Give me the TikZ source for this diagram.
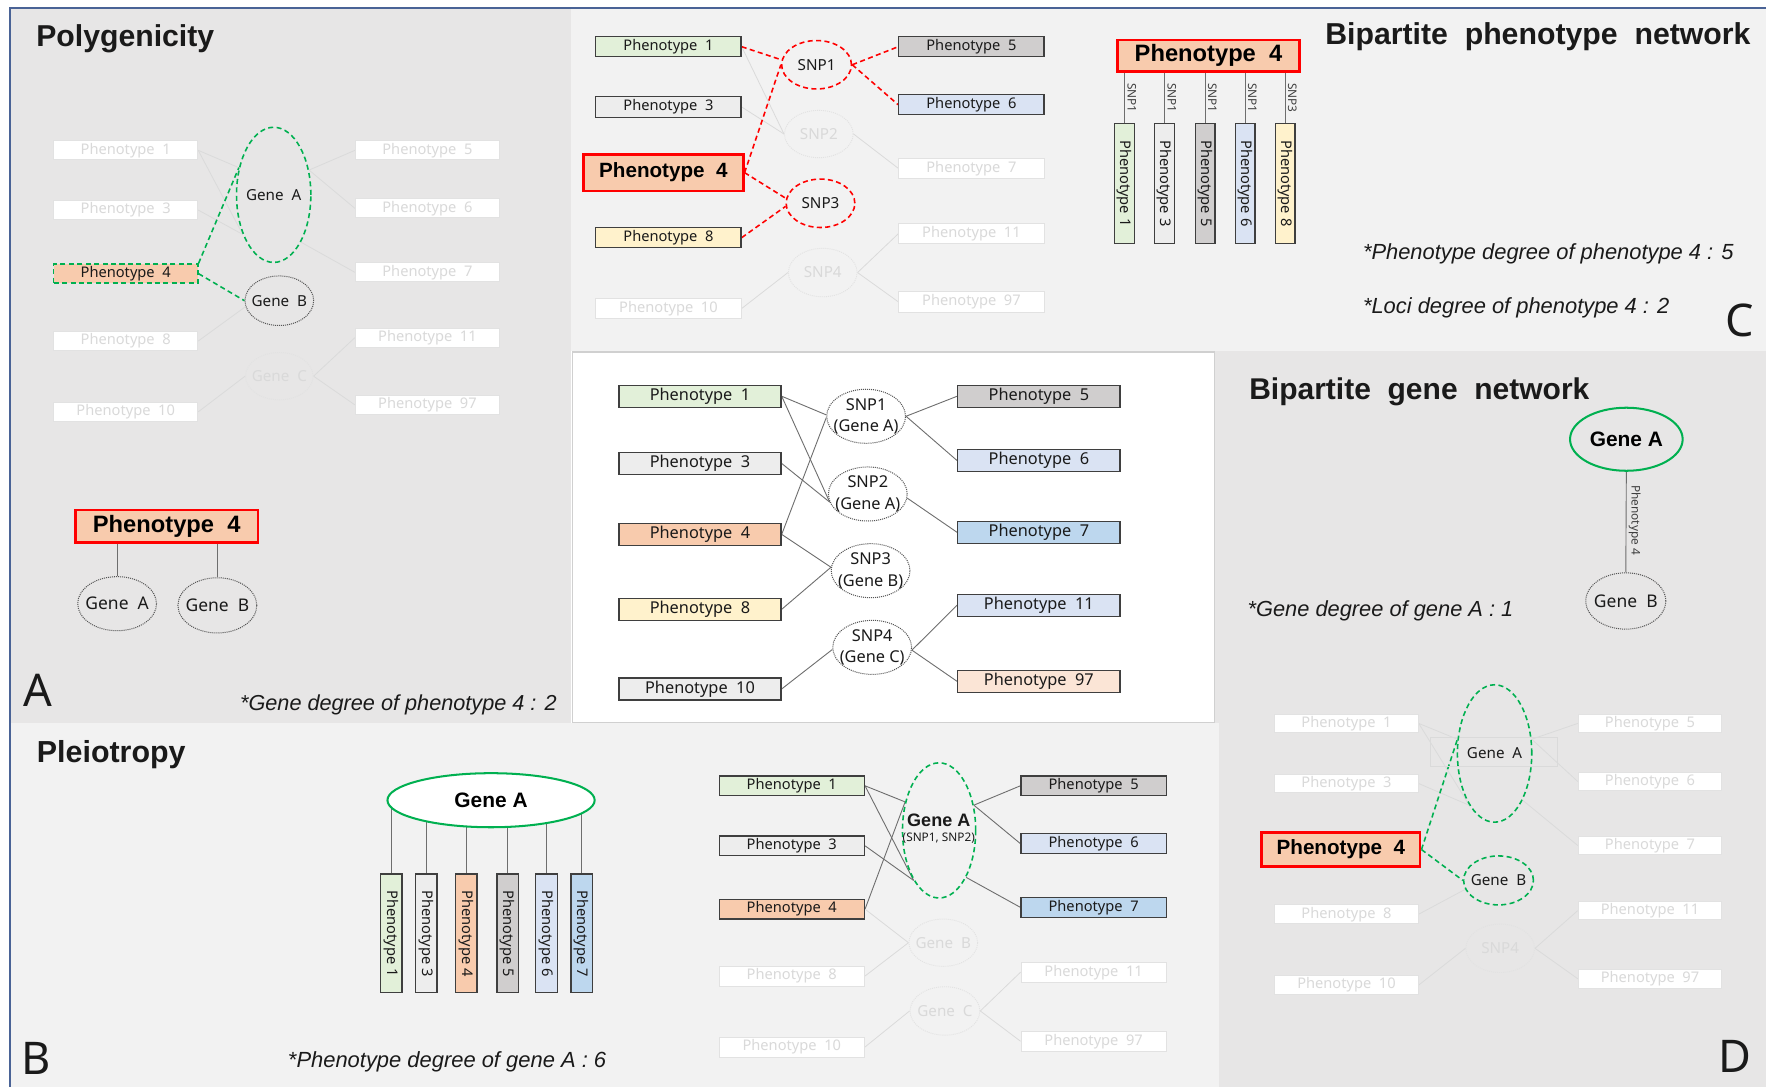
\documentclass[tikz,border=0pt]{standalone}
\usepackage{fontspec}
\usepackage{graphicx}
\setmainfont{Noto Sans}
\newfontfamily\arialf{Liberation Sans}
\newfontfamily\bff{Liberation Sans}
\usetikzlibrary{shapes.geometric}
\pgfdeclarelayer{back}
\pgfdeclarelayer{mid}
\pgfsetlayers{back,mid,main}
\definecolor{bgA}{HTML}{E7E6E6}
\definecolor{bgB}{HTML}{F2F2F2}
\definecolor{bluel}{HTML}{4A6396}
\definecolor{framec}{HTML}{D0D0D0}
\definecolor{bdark}{HTML}{3F3F3F}
\definecolor{cgreen}{HTML}{E2F0D9}
\definecolor{cgrey}{HTML}{EDEDED}
\definecolor{cpeach}{HTML}{F8CBAD}
\definecolor{cyellow}{HTML}{FFF2CC}
\definecolor{cdgrey}{HTML}{D0CECE}
\definecolor{clblue}{HTML}{DAE3F3}
\definecolor{cblue}{HTML}{BDD7EE}
\definecolor{clpeach}{HTML}{FBE5D6}
\definecolor{gcol}{HTML}{00B050}
\definecolor{ghostt}{HTML}{D9D9D9}
\definecolor{ghostb}{HTML}{E2E2E2}
\definecolor{faint}{HTML}{DADADA}
\definecolor{conn}{HTML}{6E6E6E}
\definecolor{dotc}{HTML}{555555}
\definecolor{txt}{HTML}{1A1A1A}
\newcommand\ph[1]{Phenotype\ \ #1}
\newcommand\bfx{\bff\bfseries}
\newcommand\fitw[2]{\resizebox{#1}{!}{#2}}
\newcommand\annot[2]{\resizebox{#1}{!}{\arialf\itshape #2}}
\newcommand\ttl[2]{\resizebox{#1}{!}{\bfx #2}}
\newcommand\fA{\fontsize{13}{15}\selectfont}
\newcommand\fM{\fontsize{14.5}{19}\selectfont}
\newcommand\fG{\fontsize{13.5}{16}\selectfont}
\newcommand\fH{\fontsize{15.5}{18}\selectfont}
\newcommand\fV{\fontsize{13}{15}\selectfont}
\newcommand\fS{\fontsize{10.5}{12}\selectfont}
\newcommand\fLet{\fontsize{40}{44}\selectfont}
\begin{document}
\begin{tikzpicture}[x=1pt,y=-1pt,
 pbox/.style={rectangle,draw=bdark,line width=1.1pt,inner sep=0pt,text=txt},
 ghost/.style={rectangle,draw=ghostb,line width=0.8pt,fill=white,inner sep=0pt,text=ghostt},
 bigbox/.style={rectangle,draw=red,line width=2.2pt,fill=cpeach,inner sep=0pt,text=black},
 sA/.style={minimum width=128pt,minimum height=17pt,font=\fA},
 sC/.style={minimum width=129pt,minimum height=18pt,font=\fA},
 sM/.style={minimum width=144pt,minimum height=19.5pt,font=\fM},
 sB/.style={minimum width=129pt,minimum height=17.5pt,font=\fA},
 sD/.style={minimum width=127.5pt,minimum height=16.5pt,font=\fA},
 vbox/.style={pbox,rotate=-90,font=\fV},
 ellb/.style={ellipse,inner sep=0pt},
 gell/.style={ellb,draw=gcol,line width=1.4pt,dash pattern=on 4.5pt off 3pt},
 rell/.style={ellb,draw=red,line width=1.4pt,dash pattern=on 4.5pt off 3pt},
 dell/.style={ellb,draw=dotc,line width=0.9pt,dash pattern=on 0.9pt off 0.9pt},
 ghell/.style={ellb,draw=ghostb,line width=0.8pt,dash pattern=on 0.9pt off 0.9pt},
 cline/.style={draw=conn,line width=0.8pt},
 fline/.style={draw=faint,line width=0.7pt},
 gdl/.style={draw=gcol,line width=1.4pt,dash pattern=on 4.5pt off 3pt},
 rdl/.style={draw=red,line width=1.4pt,dash pattern=on 4.5pt off 3pt},
 txtn/.style={anchor=base west,inner sep=0pt,text=txt}]
\useasboundingbox (0,0) rectangle (1568,965);
\begin{pgfonlayer}{back}
 \fill[white] (0,0) rectangle (1568,965);
 \fill[bgA] (9,8) rectangle (507,642);
 \fill[bgB] (507,8) rectangle (1568,312);
 \fill[bgA] (1079,312) rectangle (1568,965);
 \fill[bgB] (9,642) rectangle (1082,965);
 \draw[draw=framec,fill=white,line width=1pt] (508,312.5) rectangle (1078.5,641.5);
 \draw[bluel,line width=1.8pt] (8.5,965) -- (8.5,7.5) -- (1568,7.5);
\end{pgfonlayer}

% ---------------- Panel A ----------------
\node[txtn] (tA) at (32,41.5) {\ttl{158pt}{Polygenicity}};
\node[ghost,sA] (A1) at (111.6,133.5) {\ph1};
\node[ghost,sA] (A3) at (111.6,186.5) {\ph3};
\node[pbox,sA,fill=cpeach,draw=gcol,line width=1.4pt,dash pattern=on 4.5pt off 3pt] (A4) at (111.6,243) {\ph4};
\node[ghost,sA] (A8) at (111.6,302.8) {\ph8};
\node[ghost,sA] (A10) at (111.6,365.7) {\ph{10}};
\node[ghost,sA] (A5) at (379.5,133.5) {\ph5};
\node[ghost,sA] (A6) at (379.5,185) {\ph6};
\node[ghost,sA] (A7) at (379.5,241.8) {\ph7};
\node[ghost,sA] (A11) at (379.5,299.8) {\ph{11}};
\node[ghost,sA] (A97) at (379.5,359.5) {\ph{97}};
\node[gell,minimum width=66pt,minimum height=120pt,label={[font=\fG,text=txt]center:Gene\ \ A}] (AGA) at (243,173) {};
\node[dell,minimum width=61pt,minimum height=44pt,label={[font=\fG,text=txt]center:Gene\ \ B}] (AGB) at (248,267) {};
\node[ghell,minimum width=60pt,minimum height=42pt,label={[font=\fG,text=ghostt]center:Gene\ \ C}] (AGC) at (248,334) {};
\node[bigbox,minimum width=162pt,minimum height=29pt] (AP4) at (148,467.3) {\fitw{131pt}{\bfx\ph4}};
\node[dell,minimum width=70pt,minimum height=48pt,label={[font=\fH,text=txt]center:Gene\ \ A}] (AlGA) at (104,536) {};
\node[dell,minimum width=70pt,minimum height=49pt,label={[font=\fH,text=txt]center:Gene\ \ B}] (AlGB) at (193,537.5) {};
\node[txtn,font=\fLet] (labA) at (21,627) {A};
\node[txtn] (annA) at (213,630.4) {\annot{281pt}{*Gene degree of phenotype 4 : 2}};

% ---------------- Panel C ----------------
\node[pbox,sC,fill=cgreen] (C1) at (593.5,41.5) {\ph1};
\node[pbox,sC,fill=cgrey] (C3) at (593.5,95) {\ph3};
\node[bigbox,minimum width=142pt,minimum height=32.5pt] (C4) at (589,153.3) {\fitw{114pt}{\bfx\ph4}};
\node[pbox,sC,fill=cyellow] (C8) at (593.5,211) {\ph8};
\node[ghost,sC] (C10) at (593.5,274) {\ph{10}};
\node[pbox,sC,fill=cdgrey] (C5) at (862.5,41.5) {\ph5};
\node[pbox,sC,fill=clblue] (C6) at (862.5,93) {\ph6};
\node[ghost,sC] (C7) at (862.5,149.5) {\ph7};
\node[ghost,sC] (C11) at (862.5,207.5) {\ph{11}};
\node[ghost,sC] (C97) at (862.5,268) {\ph{97}};
\node[rell,minimum width=62pt,minimum height=43pt,label={[font=\fG,text=txt]center:SNP1}] (CS1) at (725,57.5) {};
\node[ghell,minimum width=61pt,minimum height=42pt,label={[font=\fG,text=ghostt]center:SNP2}] (CS2) at (727,119) {};
\node[rell,minimum width=61pt,minimum height=43pt,label={[font=\fG,text=txt]center:SNP3}] (CS3) at (728.5,180.5) {};
\node[ghell,minimum width=61pt,minimum height=43pt,label={[font=\fG,text=ghostt]center:SNP4}] (CS4) at (730.5,242) {};
\node[bigbox,minimum width=161.5pt,minimum height=28pt] (CR4) at (1073,49.5) {\fitw{131pt}{\bfx\ph4}};
\node[vbox,minimum width=106.5pt,minimum height=17.5pt,fill=cgreen] (CV1) at (998.5,162.75) {Phenotype 1};
\node[vbox,minimum width=106.5pt,minimum height=17.5pt,fill=cgrey] (CV3) at (1034,162.75) {Phenotype 3};
\node[vbox,minimum width=106.5pt,minimum height=17.5pt,fill=cdgrey] (CV5) at (1070,162.75) {Phenotype 5};
\node[vbox,minimum width=106.5pt,minimum height=17.5pt,fill=clblue] (CV6) at (1105.6,162.75) {Phenotype 6};
\node[vbox,minimum width=106.5pt,minimum height=17.5pt,fill=cyellow] (CV8) at (1141,162.75) {Phenotype 8};
\node[rotate=-90,font=\fS,text=bdark,inner sep=0pt] (L1) at (1005,87) {SNP1};
\node[rotate=-90,font=\fS,text=bdark,inner sep=0pt] (L2) at (1040.5,87) {SNP1};
\node[rotate=-90,font=\fS,text=bdark,inner sep=0pt] (L3) at (1076.5,87) {SNP1};
\node[rotate=-90,font=\fS,text=bdark,inner sep=0pt] (L4) at (1112,87) {SNP1};
\node[rotate=-90,font=\fS,text=bdark,inner sep=0pt] (L5) at (1147.5,87) {SNP3};
\node[txtn] (tC) at (1176.5,39.4) {\ttl{377.5pt}{Bipartite\ \ phenotype\ \ network}};
\node[txtn] (annC1) at (1210,230.3) {\annot{329pt}{*Phenotype degree of phenotype 4 : 5}};
\node[txtn] (annC2) at (1210,278.2) {\annot{272pt}{*Loci degree of phenotype 4 : 2}};
\node[txtn,font=\fLet] (labC) at (1532,299) {C};

% ---------------- Middle panel ----------------
\node[pbox,sM,fill=cgreen] (M1) at (621.5,351.8) {\ph1};
\node[pbox,sM,fill=cgrey] (M3) at (621.5,411.5) {\ph3};
\node[pbox,sM,fill=cpeach] (M4) at (621.5,474.5) {\ph4};
\node[pbox,sM,fill=cyellow] (M8) at (621.5,541) {\ph8};
\node[pbox,sM,fill=cgrey] (M10) at (621.5,611.7) {\ph{10}};
\node[pbox,sM,fill=cdgrey] (M5) at (922.4,351.8) {\ph5};
\node[pbox,sM,fill=clblue] (M6) at (922.4,409) {\ph6};
\node[pbox,sM,fill=cblue] (M7) at (922.4,472.7) {\ph7};
\node[pbox,sM,fill=clblue] (M11) at (922.4,537.3) {\ph{11}};
\node[pbox,sM,fill=clpeach] (M97) at (922.4,605) {\ph{97}};
\node[dell,fill=white,minimum width=70pt,minimum height=48pt,label={[font=\fM,text=txt,align=center]center:SNP1\\(Gene A)}] (S1) at (769,369.6) {};
\node[dell,fill=white,minimum width=70pt,minimum height=48pt,label={[font=\fM,text=txt,align=center]center:SNP2\\(Gene A)}] (S2) at (770.5,438.6) {};
\node[dell,fill=white,minimum width=70pt,minimum height=48pt,label={[font=\fM,text=txt,align=center]center:SNP3\\(Gene B)}] (S3) at (773,506.7) {};
\node[dell,fill=white,minimum width=70pt,minimum height=48pt,label={[font=\fM,text=txt,align=center]center:SNP4\\(Gene C)}] (S4) at (774.4,574.8) {};

% ---------------- Panel D ----------------
\node[txtn] (tD) at (1109,354.5) {\ttl{302pt}{Bipartite\ \ gene\ \ network}};
\node[ellb,draw=gcol,line width=1.8pt,minimum width=100pt,minimum height=56pt] (DGA) at (1444,390) {\fitw{65pt}{\bfx Gene A}};
\node[dell,minimum width=71pt,minimum height=50pt,label={[font=\fH,text=txt]center:Gene\ \ B}] (DGB) at (1443.5,533.6) {};
\node[rotate=-90,font=\fS,text=bdark,inner sep=0pt] (DL) at (1451.5,461.7) {Phenotype 4};
\node[txtn] (annD) at (1107.5,547.5) {\annot{236pt}{*Gene degree of gene A : 1}};
\node[ghost,sD] (D1) at (1195.5,642.3) {\ph1};
\node[ghost,sD] (D3) at (1195.5,695.7) {\ph3};
\node[bigbox,minimum width=141pt,minimum height=30.5pt] (D4) at (1190.5,754.3) {\fitw{114pt}{\bfx\ph4}};
\node[ghost,sD] (D8) at (1195.5,811.7) {\ph8};
\node[ghost,sD] (D10) at (1195.5,874.6) {\ph{10}};
\node[ghost,sD] (D5) at (1465,642.3) {\ph5};
\node[ghost,sD] (D6) at (1465,693.9) {\ph6};
\node[ghost,sD] (D7) at (1465,750.7) {\ph7};
\node[ghost,sD] (D11) at (1465,808.5) {\ph{11}};
\node[ghost,sD] (D97) at (1465,869) {\ph{97}};
\node[rectangle,draw=faint,line width=0.7pt,minimum width=113pt,minimum height=25.7pt,inner sep=0pt] (DGAr) at (1326.5,667.9) {};
\node[gell,minimum width=66pt,minimum height=122pt,label={[font=\fG,text=txt]center:Gene\ \ A}] (DGA2) at (1327,669) {};
\node[gell,minimum width=62pt,minimum height=43.5pt,label={[font=\fG,text=txt]center:Gene\ \ B}] (DGB2) at (1330.5,781.7) {};
\node[ghell,minimum width=61pt,minimum height=43pt,label={[font=\fG,text=ghostt]center:SNP4}] (DS4) at (1332,842) {};
\node[txtn,font=\fLet] (labD) at (1526,952) {D};

% ---------------- Panel B ----------------
\node[txtn] (tB) at (32.6,677) {\ttl{132pt}{Pleiotropy}};
\node[ellb,draw=gcol,line width=1.8pt,fill=white,minimum width=184pt,minimum height=48pt] (BGA) at (436,710.5) {\fitw{65pt}{\bfx Gene A}};
\node[vbox,minimum width=105.4pt,minimum height=19pt,fill=cgreen] (BV1) at (347.5,828.7) {Phenotype 1};
\node[vbox,minimum width=105.4pt,minimum height=19pt,fill=cgrey] (BV3) at (378.6,828.7) {Phenotype 3};
\node[vbox,minimum width=105.4pt,minimum height=19pt,fill=cpeach] (BV4) at (414,828.7) {Phenotype 4};
\node[vbox,minimum width=105.4pt,minimum height=19pt,fill=cdgrey] (BV5) at (450.7,828.7) {Phenotype 5};
\node[vbox,minimum width=105.4pt,minimum height=19pt,fill=clblue] (BV6) at (485.2,828.7) {Phenotype 6};
\node[vbox,minimum width=105.4pt,minimum height=19pt,fill=cblue] (BV7) at (516.4,828.7) {Phenotype 7};
\node[txtn,font=\fLet] (labB) at (19,954) {B};
\node[txtn] (annB) at (255.5,947.6) {\annot{282.5pt}{*Phenotype degree of gene A : 6}};
\node[pbox,sB,fill=cgreen] (B1) at (703,697.7) {\ph1};
\node[pbox,sB,fill=cgrey] (B3) at (703,751) {\ph3};
\node[pbox,sB,fill=cpeach] (B4) at (703,807.2) {\ph4};
\node[ghost,sB] (B8) at (703,866.7) {\ph8};
\node[ghost,sB] (B10) at (703,929.7) {\ph{10}};
\node[pbox,sB,fill=cdgrey] (B5) at (971,697.7) {\ph5};
\node[pbox,sB,fill=clblue] (B6) at (971,749) {\ph6};
\node[pbox,sB,fill=cblue] (B7) at (971,805.6) {\ph7};
\node[ghost,sB] (B11) at (971,863.2) {\ph{11}};
\node[ghost,sB] (B97) at (971,924.5) {\ph{97}};
\node[gell,minimum width=65pt,minimum height=120pt] (BGA2) at (833.8,737.3) {};
\node[inner sep=0pt,text=txt] (BGAt) at (833.5,728.7) {\fitw{56pt}{\bfx Gene A}};
\node[inner sep=0pt,text=txt] (BGAs) at (833.5,744) {\fitw{64pt}{(SNP1, SNP2)}};
\node[ghell,minimum width=61pt,minimum height=42pt,label={[font=\fG,text=ghostt]center:Gene\ \ B}] (BGB) at (837.5,837) {};
\node[ghell,minimum width=62pt,minimum height=43pt,label={[font=\fG,text=ghostt]center:Gene\ \ C}] (BGC) at (839,897.6) {};

% ---------------- connectors ----------------
\begin{pgfonlayer}{mid}
 % A
 \draw[fline] (A1.east) -- (AGA.142);
 \draw[fline] (A1.east) -- (AGA.232);
 \draw[fline] (A3.east) -- (AGA.232);
 \draw[fline] (AGA.35) -- (A5.west);
 \draw[fline] (AGA.35) -- (A6.west);
 \draw[fline] (AGA.300) -- (A7.west);
 \draw[fline] (A8.east) -- (AGB.190);
 \draw[fline] (A10.east) -- (AGC.west);
 \draw[fline] (AGC.east) -- (A11.west);
 \draw[fline] (AGC.east) -- (A97.west);
 \draw[gdl] (A4.north east) -- (AGA.142);
 \draw[gdl] (A4.east) -- (AGB.west);
 \draw[cline] (AlGA.north) -- (AlGA.north |- AP4.south);
 \draw[cline] (AlGB.north) -- (AlGB.north |- AP4.south);
 % C
 \draw[fline] (C1.east) -- (CS2.west);
 \draw[fline] (C3.east) -- (CS2.west);
 \draw[fline] (CS2.east) -- (C7.west);
 \draw[fline] (C10.east) -- (CS4.west);
 \draw[fline] (CS4.east) -- (C11.west);
 \draw[fline] (CS4.east) -- (C97.west);
 \draw[rdl] (C1.east) -- (CS1.172);
 \draw[rdl] (C4.east) -- (CS1.180);
 \draw[rdl] (CS1.east) -- (C5.west);
 \draw[rdl] (CS1.east) -- (C6.west);
 \draw[rdl] (C4.east) -- (CS3.172);
 \draw[rdl] (C8.east) -- (CS3.185);
 \foreach \v in {CV1,CV3,CV5,CV6,CV8}{\draw[cline] (\v.west) -- (\v.west |- CR4.south);}
 % middle
 \draw[cline] (M1.east) -- (S1.178);
 \draw[cline] (M1.east) -- (S2.192);
 \draw[cline] (M3.east) -- (S2.192);
 \draw[cline] (M4.east) -- (S1.182);
 \draw[cline] (M4.east) -- (S3.175);
 \draw[cline] (M8.east) -- (S3.175);
 \draw[cline] (M10.east) -- (S4.183);
 \draw[cline] (S1.0) -- (M5.west);
 \draw[cline] (S1.0) -- (M6.west);
 \draw[cline] (S2.354) -- (M7.west);
 \draw[cline] (S4.356) -- (M11.west);
 \draw[cline] (S4.356) -- (M97.west);
 % D
 \draw[cline] (DGA.south) -- (DGB.north);
 \draw[fline] (D1.east) -- (DGA2.159);
 \draw[fline] (D1.east) -- (DGA2.244);
 \draw[fline] (D3.east) -- (DGA2.244);
 \draw[fline] (DGA2.21) -- (D5.west);
 \draw[fline] (DGA2.21) -- (D6.west);
 \draw[fline] (DGA2.301) -- (D7.west);
 \draw[fline] (D8.east) -- (DGB2.195);
 \draw[fline] (D10.east) -- (DS4.west);
 \draw[fline] (DS4.east) -- (D11.west);
 \draw[fline] (DS4.east) -- (D97.west);
 \draw[gdl] (D4.east) -- (DGA2.159);
 \draw[gdl] (D4.east) -- (DGB2.west);
 % B
 \foreach \v in {BV1,BV3,BV4,BV5,BV6,BV7}{\draw[cline] (\v.west) -- (\v.west |- BGA.center);}
 \draw[cline] (B1.east) -- (BGA2.140);
 \draw[cline] (B1.east) -- (BGA2.243);
 \draw[cline] (B3.east) -- (BGA2.243);
 \draw[cline] (B4.east) -- (BGA2.140);
 \draw[cline] (BGA2.36) -- (B5.west);
 \draw[cline] (BGA2.36) -- (B6.west);
 \draw[cline] (BGA2.300) -- (B7.west);
 \draw[fline] (B4.east) -- (BGB.west);
 \draw[fline] (B8.east) -- (BGB.west);
 \draw[fline] (B10.east) -- (BGC.west);
 \draw[fline] (BGC.east) -- (B11.west);
 \draw[fline] (BGC.east) -- (B97.west);
\end{pgfonlayer}
\end{tikzpicture}
\end{document}
